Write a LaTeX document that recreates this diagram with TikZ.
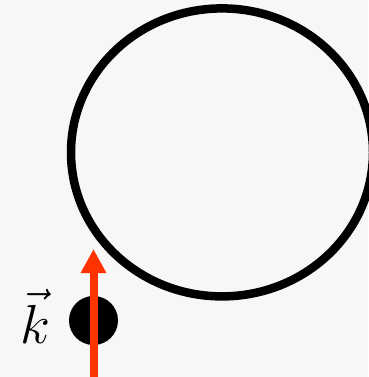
\documentclass[tikz,border=0pt]{standalone}
\usepackage{fix-cm}
\usepackage{tikz}
\usetikzlibrary{positioning, arrows.meta}
\usepackage{amsmath,amssymb}
\definecolor{bgback}{RGB}{247,247,247}
\definecolor{kred}{RGB}{255,51,0}

\begin{document}
\begin{tikzpicture}[x=1pt, y=1pt,
  ring/.style={line width=8.5pt},
  ball/.style={circle, fill=black, minimum size=49pt, inner sep=0pt},
  kvec/.style={draw=kred, line width=8pt, -{Triangle[length=24pt, width=24pt]}}]
\fill[bgback] (0,0) rectangle (368,-377);
\useasboundingbox (0,0) rectangle (368,-377);
\coordinate (ringc) at (222,-152.4);
\draw[ring] (ringc) ellipse [x radius=151, y radius=144];
\node[ball] at (93.5,-320.5) (ball) {};
\node[anchor=base] at (35,-343) (klabel) {\fontsize{55}{60}\selectfont $\vec{k}$};
\coordinate (kfoot) at (93.5,-377);
\coordinate (ktip) at (93.5,-249);
\draw[kvec] (kfoot) -- (ktip);
\end{tikzpicture}
\end{document}
